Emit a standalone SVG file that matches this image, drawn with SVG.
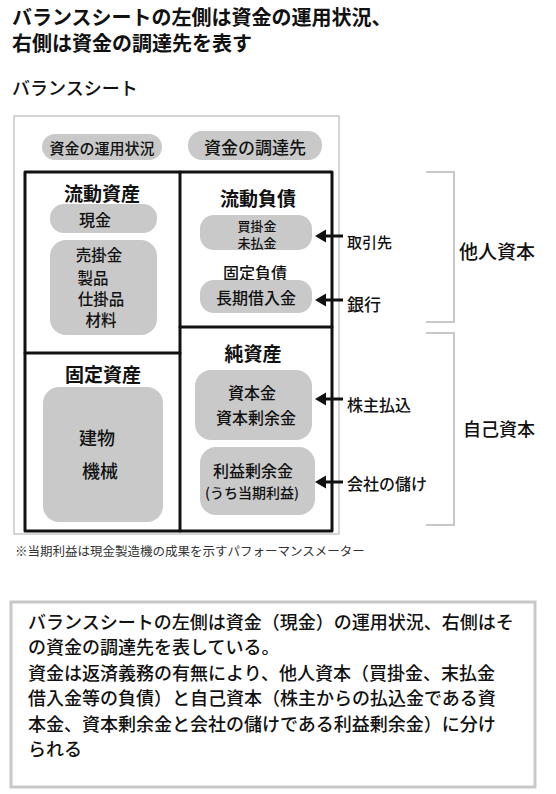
<svg xmlns="http://www.w3.org/2000/svg" width="556" height="794" viewBox="0 0 556 794">
<style>
.title{font-family:"Noto Sans CJK JP","Noto Sans",sans-serif;font-weight:bold;font-size:20px;fill:#111}
.sub{font-family:"Noto Sans CJK JP","Noto Sans",sans-serif;font-weight:500;font-size:18px;fill:#111}
.hand{font-family:"Noto Sans CJK JP","Noto Sans",sans-serif;font-weight:500;fill:#111;text-anchor:middle;dominant-baseline:central}
.hd{font-weight:bold;font-size:19px}
.it{font-size:16px}
.lbl{font-family:"Noto Sans CJK JP","Noto Sans",sans-serif;font-weight:500;fill:#111;font-size:15px;dominant-baseline:central}
.pill{fill:#c9c9c9}
.frame{fill:none;stroke:#111;stroke-width:3;stroke-linejoin:round;stroke-linecap:round}
.br{fill:none;stroke:#c8c8c8;stroke-width:2}
.note{font-family:"Noto Sans CJK JP","Noto Sans",sans-serif;font-size:12.5px;fill:#333}
.body{font-family:"Noto Sans CJK JP","Noto Sans",sans-serif;font-weight:500;font-size:18px;fill:#111}
.arr{stroke:#111;stroke-width:3}
</style>
<rect width="556" height="794" fill="#fff"/>
<g id="title">
<text class="title" x="12" y="25">バランスシートの左側は資金の運用状況、</text>
<text class="title" x="12" y="51">右側は資金の調達先を表す</text>
<text class="sub" x="12" y="95">バランスシート</text>
</g>
<g id="sheet-frame">
<rect x="14" y="116" width="325" height="418" fill="none" stroke="#c8c8c8" stroke-width="1.5"/>
</g>
<g id="label-left">
<rect class="pill" x="42" y="134" width="120" height="26" rx="13"/>
<text class="hand" x="102" y="147" style="font-size:15px">資金の運用状況</text>
</g>
<g id="label-right">
<rect class="pill" x="188" y="131" width="134" height="29" rx="14"/>
<text class="hand" x="255" y="146" style="font-size:17px">資金の調達先</text>
</g>
<g id="balance-box">
<rect class="frame" x="25" y="172" width="307" height="359"/>
<line class="frame" x1="180" y1="172" x2="180" y2="531"/>
<line class="frame" x1="25" y1="353" x2="180" y2="353"/>
<line class="frame" x1="180" y1="327" x2="332" y2="327"/>
</g>
<g id="current-assets">
<text class="hand hd" x="102" y="192">流動資産</text>
<rect class="pill" x="50" y="204" width="107" height="29" rx="14"/>
<text class="hand it" x="95" y="219">現金</text>
<rect class="pill" x="50" y="240" width="107" height="95" rx="16"/>
<text class="hand" x="99" y="254" style="font-size:15.5px">売掛金</text>
<text class="hand" x="93" y="277" style="font-size:15.5px">製品</text>
<text class="hand" x="101" y="298" style="font-size:15.5px">仕掛品</text>
<text class="hand" x="101" y="319" style="font-size:15.5px">材料</text>
</g>
<g id="current-liabilities">
<text class="hand hd" x="258" y="197">流動負債</text>
<rect class="pill" x="200" y="215" width="112" height="35" rx="14"/>
<text class="hand" x="257" y="225" style="font-size:13px">買掛金</text>
<text class="hand" x="257" y="242" style="font-size:13px">未払金</text>
</g>
<g id="fixed-liabilities">
<text class="hand it" x="255" y="272">固定負債</text>
<rect class="pill" x="200" y="280" width="112" height="33" rx="14"/>
<text class="hand it" x="256" y="297">長期借入金</text>
</g>
<g id="net-assets">
<text class="hand hd" x="253" y="352">純資産</text>
<rect class="pill" x="195" y="370" width="117" height="70" rx="16"/>
<text class="hand it" x="252" y="392">資本金</text>
<text class="hand it" x="256" y="417">資本剰余金</text>
<rect class="pill" x="200" y="447" width="115" height="68" rx="16"/>
<text class="hand it" x="253" y="470">利益剰余金</text>
<text class="hand" x="252" y="492" style="font-size:14px">(うち当期利益)</text>
</g>
<g id="fixed-assets">
<text class="hand hd" x="103" y="373">固定資産</text>
<rect class="pill" x="43" y="387" width="120" height="135" rx="16"/>
<text class="hand" x="97" y="437" style="font-size:18px">建物</text>
<text class="hand" x="100" y="470" style="font-size:18px">機械</text>
</g>
<g id="connectors">
<line class="arr" x1="343" y1="236" x2="322" y2="236"/>
<polygon points="315,236 326,229.5 326,242.5" fill="#111"/>
<line class="arr" x1="343" y1="300" x2="322" y2="300"/>
<polygon points="315,300 326,293.5 326,306.5" fill="#111"/>
<line class="arr" x1="343" y1="399" x2="322" y2="399"/>
<polygon points="315,399 326,392.5 326,405.5" fill="#111"/>
<line class="arr" x1="343" y1="482" x2="322" y2="482"/>
<polygon points="315,482 326,475.5 326,488.5" fill="#111"/>
</g>
<g id="source-labels">
<text class="lbl" x="347" y="241">取引先</text>
<text class="lbl" x="347" y="303" style="font-size:17px">銀行</text>
<text class="lbl" x="347" y="404" style="font-size:16px">株主払込</text>
<text class="lbl" x="347" y="483" style="font-size:16px">会社の儲け</text>
</g>
<g id="other-capital">
<path class="br" d="M426 172 H454 V322 H426"/>
<text class="hand" x="497" y="250" style="font-size:19px">他人資本</text>
</g>
<g id="own-capital">
<path class="br" d="M426 333 H454 V525 H426"/>
<text class="hand" x="499" y="428" style="font-size:18px">自己資本</text>
</g>
<g id="footnote">
<text class="note" x="15" y="556">※当期利益は現金製造機の成果を示すパフォーマンスメーター</text>
</g>
<g id="summary">
<rect x="11" y="602" width="524" height="185" fill="#fff" stroke="#c8c8c8" stroke-width="3"/>
<text class="body" x="28" y="629">バランスシートの左側は資金（現金）の運用状況、右側はそ</text>
<text class="body" x="28" y="654">の資金の調達先を表している。</text>
<text class="body" x="28" y="680">資金は返済義務の有無により、他人資本（買掛金、末払金</text>
<text class="body" x="28" y="705">借入金等の負債）と自己資本（株主からの払込金である資</text>
<text class="body" x="28" y="731">本金、資本剰余金と会社の儲けである利益剰余金）に分け</text>
<text class="body" x="28" y="756">られる</text>
</g>
</svg>
